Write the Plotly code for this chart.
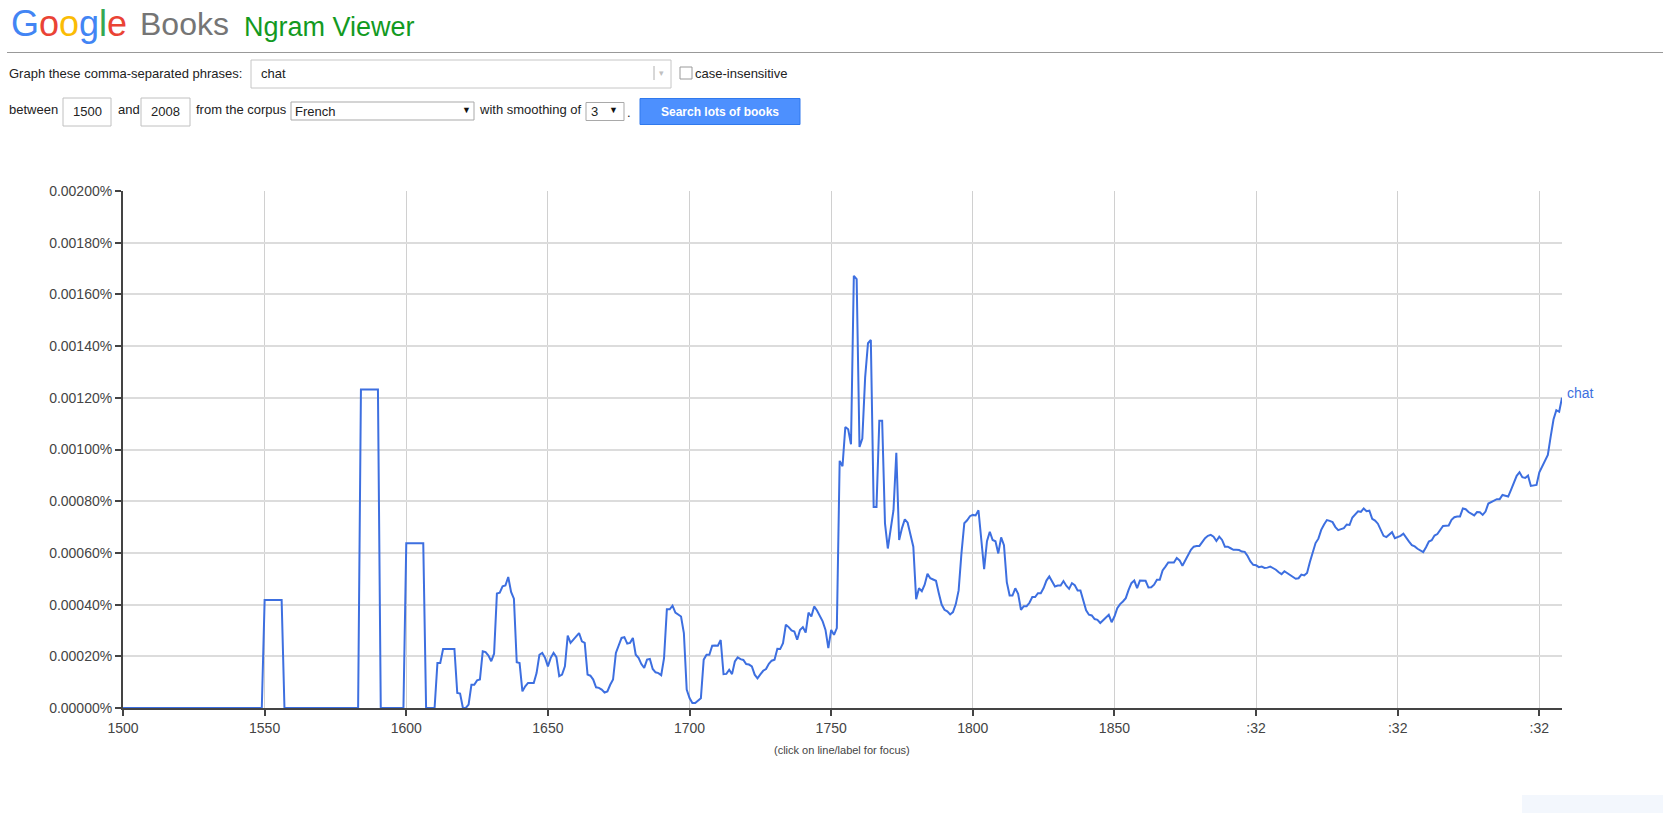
import plotly.graph_objects as go

# ---------------- data ----------------
years = [1500, 1549, 1550, 1556, 1557, 1583, 1584, 1590, 1591, 1599, 1600, 1606, 1607, 1610,
         1611, 1612, 1613, 1617, 1618, 1619, 1620, 1621, 1622, 1623, 1624, 1625, 1626, 1627, 1628, 1629,
         1630, 1631, 1632, 1633, 1634, 1635, 1636, 1637, 1638, 1639, 1640, 1641, 1642, 1643, 1644, 1645,
         1646, 1647, 1648, 1649, 1650, 1651, 1652, 1653, 1654, 1655, 1656, 1657, 1658, 1659, 1660, 1661,
         1662, 1663, 1664, 1665, 1666, 1667, 1668, 1669, 1670, 1671, 1672, 1673, 1674, 1675, 1676, 1677,
         1678, 1679, 1680, 1681, 1682, 1683, 1684, 1685, 1686, 1687, 1688, 1689, 1690, 1691, 1692, 1693,
         1694, 1695, 1696, 1697, 1698, 1699, 1700, 1701, 1702, 1703, 1704, 1705, 1706, 1707, 1708, 1709,
         1710, 1711, 1712, 1713, 1714, 1715, 1716, 1717, 1718, 1719, 1720, 1721, 1722, 1723, 1724, 1725,
         1726, 1727, 1728, 1729, 1730, 1731, 1732, 1733, 1734, 1735, 1736, 1737, 1738, 1739, 1740, 1741,
         1742, 1743, 1744, 1745, 1746, 1747, 1748, 1749, 1750, 1751, 1752, 1753, 1754, 1755, 1756, 1757,
         1758, 1759, 1760, 1761, 1762, 1763, 1764, 1765, 1766, 1767, 1768, 1769, 1770, 1771, 1772, 1773,
         1774, 1775, 1776, 1777, 1778, 1779, 1780, 1781, 1782, 1783, 1784, 1785, 1786, 1787, 1788, 1789,
         1790, 1791, 1792, 1793, 1794, 1795, 1796, 1797, 1798, 1799, 1800, 1801, 1802, 1803, 1804, 1805,
         1806, 1807, 1808, 1809, 1810, 1811, 1812, 1813, 1814, 1815, 1816, 1817, 1818, 1819, 1820, 1821,
         1822, 1823, 1824, 1825, 1826, 1827, 1828, 1829, 1830, 1831, 1832, 1833, 1834, 1835, 1836, 1837,
         1838, 1839, 1840, 1841, 1842, 1843, 1844, 1845, 1846, 1847, 1848, 1849, 1850, 1851, 1852, 1853,
         1854, 1855, 1856, 1857, 1858, 1859, 1860, 1861, 1862, 1863, 1864, 1865, 1866, 1867, 1868, 1869,
         1870, 1871, 1872, 1873, 1874, 1875, 1876, 1877, 1878, 1879, 1880, 1881, 1882, 1883, 1884, 1885,
         1886, 1887, 1888, 1889, 1890, 1891, 1892, 1893, 1894, 1895, 1896, 1897, 1898, 1899, 1900, 1901,
         1902, 1903, 1904, 1905, 1906, 1907, 1908, 1909, 1910, 1911, 1912, 1913, 1914, 1915, 1916, 1917,
         1918, 1919, 1920, 1921, 1922, 1923, 1924, 1925, 1926, 1927, 1928, 1929, 1930, 1931, 1932, 1933,
         1934, 1935, 1936, 1937, 1938, 1939, 1940, 1941, 1942, 1943, 1944, 1945, 1946, 1947, 1948, 1949,
         1950, 1951, 1952, 1953, 1954, 1955, 1956, 1957, 1958, 1959, 1960, 1961, 1962, 1963, 1964, 1965,
         1966, 1967, 1968, 1969, 1970, 1971, 1972, 1973, 1974, 1975, 1976, 1977, 1978, 1979, 1980, 1981,
         1982, 1983, 1984, 1985, 1986, 1987, 1988, 1989, 1990, 1991, 1992, 1993, 1994, 1995, 1996, 1997,
         1998, 1999, 2000, 2001, 2002, 2003, 2004, 2005, 2006, 2007, 2008]

values = [0, 0, 0.000418, 0.000418, 0, 0, 0.001232, 0.001232, 0, 0, 0.000637, 0.000637, 0, 0,
          0.000174, 0.000174, 0.000228, 0.000228, 0.000058, 0.000056, 0.0, 0.0, 0.000013, 0.00009, 0.00009,
          0.000107, 0.00011, 0.000219, 0.000216, 0.000203,
          0.000181, 0.00021, 0.000443, 0.000446, 0.000471, 0.000474, 0.000507, 0.000449, 0.000423, 0.000177,
          0.000174, 0.0000645, 0.000084, 0.000097, 0.000097, 0.000097,
          0.000135, 0.000206, 0.000213, 0.000194, 0.000161, 0.000194, 0.000213, 0.000197, 0.000123, 0.000129,
          0.000161, 0.00028, 0.000252, 0.000265, 0.000277, 0.00029,
          0.000258, 0.000252, 0.000129, 0.000125, 0.00011, 0.00008, 0.000078, 0.000071, 0.00006, 0.000064,
          0.00009, 0.00011, 0.000213, 0.000245, 0.000271, 0.000274,
          0.000249, 0.000252, 0.000271, 0.000206, 0.000194, 0.00017, 0.000155, 0.000187, 0.00019, 0.000151,
          0.000138, 0.000135, 0.000127, 0.000193, 0.000382, 0.000382,
          0.000396, 0.000369, 0.000363, 0.000354, 0.00029, 0.000071, 0.0000386, 0.0000193, 0.0000193, 0.00003,
          0.0000373, 0.000187, 0.000206, 0.000206, 0.000241, 0.000242,
          0.000241, 0.000263, 0.000131, 0.000132, 0.000148, 0.000131, 0.00018, 0.000196, 0.000189, 0.000186,
          0.00017, 0.000168, 0.000161, 0.000129, 0.000115, 0.00013,
          0.000144, 0.000151, 0.000171, 0.000183, 0.000187, 0.000229, 0.000228, 0.000251, 0.000322, 0.000313,
          0.0003, 0.000296, 0.000264, 0.000302, 0.000313, 0.000292,
          0.000369, 0.000354, 0.000393, 0.000377, 0.000354, 0.000335, 0.000302, 0.000232, 0.000302, 0.000283,
          0.000309, 0.000956, 0.000935, 0.001087, 0.001078, 0.00102,
          0.001672, 0.001659, 0.00101, 0.001042, 0.00128, 0.001411, 0.001424, 0.000778, 0.000778, 0.001111,
          0.001111, 0.000714, 0.000617, 0.000698, 0.000765, 0.000987,
          0.00065, 0.000696, 0.00073, 0.000717, 0.000667, 0.000624, 0.000421, 0.000463, 0.000452, 0.000477,
          0.000519, 0.000502, 0.000497, 0.000492, 0.000444, 0.0004,
          0.00038, 0.000374, 0.000362, 0.000371, 0.000402, 0.000455, 0.000599, 0.000715, 0.000726, 0.000742,
          0.000747, 0.000745, 0.000765, 0.00065, 0.000537, 0.000645,
          0.000682, 0.00065, 0.000645, 0.000598, 0.00066, 0.00063, 0.000487, 0.000435, 0.000435, 0.000463,
          0.000442, 0.00038, 0.000394, 0.000394, 0.000407, 0.000429,
          0.000429, 0.000444, 0.000444, 0.000464, 0.000493, 0.000509, 0.00049, 0.00047, 0.000474, 0.000474,
          0.000491, 0.000473, 0.000461, 0.000483, 0.000475, 0.000455,
          0.000455, 0.000412, 0.000378, 0.000361, 0.000358, 0.000344, 0.000341, 0.000329, 0.000339, 0.000348,
          0.000361, 0.000332, 0.000354, 0.000386, 0.000402, 0.000412,
          0.000425, 0.000457, 0.000483, 0.000493, 0.000464, 0.000493, 0.000492, 0.000492, 0.000466, 0.000467,
          0.000477, 0.000496, 0.000496, 0.000532, 0.000547, 0.000563,
          0.000563, 0.000563, 0.00058, 0.000571, 0.00055, 0.00057, 0.000588, 0.000612, 0.000624, 0.000627,
          0.000627, 0.000644, 0.000657, 0.000666, 0.00067, 0.000663,
          0.000646, 0.000663, 0.00065, 0.000624, 0.000624, 0.000618, 0.000612, 0.000612, 0.000611, 0.000605,
          0.000604, 0.000588, 0.000567, 0.000554, 0.000552, 0.000545,
          0.000547, 0.000542, 0.000543, 0.000547, 0.000541, 0.000535, 0.000525, 0.000518, 0.000529, 0.000522,
          0.000515, 0.000508, 0.0005, 0.000502, 0.000516, 0.000513,
          0.000522, 0.000565, 0.000605, 0.000638, 0.000655, 0.000689, 0.00071, 0.000727, 0.000724, 0.000719,
          0.0007, 0.000688, 0.000692, 0.000696, 0.00071, 0.000708,
          0.000737, 0.00075, 0.000761, 0.000759, 0.000772, 0.000761, 0.000763, 0.000732, 0.000725, 0.000713,
          0.000687, 0.000666, 0.000661, 0.000671, 0.00068, 0.000657,
          0.000661, 0.000666, 0.000674, 0.000661, 0.000644, 0.00063, 0.000625, 0.000616, 0.000611, 0.000603,
          0.000622, 0.000644, 0.000649, 0.000667, 0.000673, 0.000689,
          0.000704, 0.000705, 0.000706, 0.000728, 0.000738, 0.000741, 0.000741, 0.000772, 0.000769, 0.000758,
          0.000752, 0.000745, 0.000758, 0.000757, 0.000747, 0.00076,
          0.000791, 0.000796, 0.000803, 0.000808, 0.000808, 0.000824, 0.000821, 0.000818, 0.000844, 0.000873,
          0.000898, 0.000912, 0.000893, 0.00089, 0.000899, 0.000859,
          0.00086, 0.000863, 0.000912, 0.000935, 0.000962, 0.000979, 0.00105, 0.001116, 0.001152, 0.001146,
          0.0012]

series_name = "chat"
x_tick_vals = [1500, 1550, 1600, 1650, 1700, 1750, 1800, 1850, 1900, 1950, 2000]
x_tick_text = ["1500", "1550", "1600", "1650", "1700", "1750", "1800", "1850", ":32", ":32", ":32"]
y_tick_vals = [0, 0.0002, 0.0004, 0.0006, 0.0008, 0.001, 0.0012, 0.0014, 0.0016, 0.0018, 0.002]
y_tick_text = ["%.5f%%" % v for v in y_tick_vals]

# ---------------- layout geometry ----------------
W, H = 1663, 813
L, R, T, B = 123, 101, 191, 105
PW, PH = W - L - R, H - T - B

def px(x):
    return (x - L) / PW

def py(y):
    return (H - B - y) / PH

FONT = "Arial, Liberation Sans, sans-serif"
LINE_COLOR = "#3d6fe0"

fig = go.Figure()
fig.add_trace(go.Scatter(x=years, y=values, mode="lines", name=series_name,
                         line=dict(color=LINE_COLOR, width=2), hoverinfo="x+y"))

annotations = []
shapes = []

def text(x, y, s, size=13, color="#222", anchor="left", bold=False):
    if bold:
        s = "<b>" + s + "</b>"
    annotations.append(dict(x=px(x), y=py(y), xref="paper", yref="paper", text=s, showarrow=False,
                            xanchor=anchor, yanchor="middle", font=dict(family=FONT, size=size, color=color),
                            borderpad=0))

def rect(x0, y0, x1, y1, line="#c0c0c0", fill="white", width=1):
    shapes.append(dict(type="rect", xref="paper", yref="paper", x0=px(x0), x1=px(x1), y0=py(y1), y1=py(y0),
                       line=dict(color=line, width=width), fillcolor=fill, layer="above"))

# header
google = ("<span style='color:#4285F4'>G</span><span style='color:#EA4335'>o</span>"
          "<span style='color:#FBBC05'>o</span><span style='color:#4285F4'>g</span>"
          "<span style='color:#34A853'>l</span><span style='color:#EA4335'>e</span>")
text(10, 23, google, size=36)
text(139, 24, "Books", size=32, color="#757575")
text(243, 27, "Ngram Viewer", size=27, color="#139a1f")
shapes.append(dict(type="line", xref="paper", yref="paper", x0=px(7), x1=px(1663), y0=py(52.5), y1=py(52.5),
                   line=dict(color="#999999", width=1)))

# row 1
text(8, 73, "Graph these comma-separated phrases:")
rect(251, 60, 671, 88, line="#c6c6c6")
text(260, 74, "chat")
shapes.append(dict(type="line", xref="paper", yref="paper", x0=px(654), x1=px(654), y0=py(66), y1=py(80),
                   line=dict(color="#b0b0b0", width=1)))
text(661, 73, "▾", size=9, color="#c0c0c0", anchor="center")
rect(680, 67, 692, 79, line="#9a9a9a")
text(694, 73, "case-insensitive")

# row 2
text(8, 110, "between")
rect(63, 98, 111, 126)
text(87, 111, "1500", anchor="center")
text(117, 110, "and")
rect(141, 98, 190, 126)
text(165.5, 111, "2008", anchor="center")
text(195, 110, "from the corpus")
rect(291, 102, 474, 120, line="#a9a9a9")
text(294, 111, "French")
text(466, 110, "▼", size=9, color="#111", anchor="center")
text(478, 110, "with smoothing of")
rect(586, 102.5, 624, 120.5, line="#a9a9a9")
text(590, 111, "3")
text(613, 110, "▼", size=9, color="#111", anchor="center")
text(626, 112, ".")
rect(640, 98.5, 800, 124.5, line="#3079ed", fill="#4d90fe")
text(720, 111.5, "Search lots of books", size=12, color="white", anchor="center", bold=True)

# footer note
text(841.5, 750, "(click on line/label for focus)", size=11, color="#444", anchor="center")
rect(1522, 795, 1663, 813, line="rgba(0,0,0,0)", fill="#f3f7fd", width=0)

# series label at end of line
annotations.append(dict(x=years[-1], y=values[-1], xref="x", yref="y", text=series_name, showarrow=False,
                        xanchor="left", yanchor="middle", xshift=3, yshift=5,
                        font=dict(family=FONT, size=14, color=LINE_COLOR)))

fig.update_layout(
    width=W, height=H,
    margin=dict(l=L, r=R, t=T, b=B, pad=0),
    paper_bgcolor="white", plot_bgcolor="white",
    showlegend=False,
    annotations=annotations,
    shapes=shapes,
    font=dict(family=FONT),
    xaxis=dict(range=[1500, 2008], tickmode="array", tickvals=x_tick_vals, ticktext=x_tick_text,
               showgrid=True, gridcolor="#d0d0d0", gridwidth=1, zeroline=False,
               showline=True, linecolor="#444444", linewidth=2,
               ticks="outside", ticklen=6, tickwidth=1.5, tickcolor="#444444",
               tickfont=dict(family=FONT, size=14, color="#444444"), fixedrange=True),
    yaxis=dict(range=[0, 0.002], tickmode="array", tickvals=y_tick_vals, ticktext=y_tick_text,
               showgrid=True, gridcolor="#dcdcdc", gridwidth=1.5, zeroline=False,
               showline=True, linecolor="#444444", linewidth=2,
               ticks="outside", ticklen=6, tickwidth=1.5, tickcolor="#444444",
               tickfont=dict(family=FONT, size=14, color="#444444"), fixedrange=True),
)

fig.write_html("out.html", config={"displayModeBar": False},
               post_script="document.body.style.margin='0';document.body.style.overflow='hidden';")
